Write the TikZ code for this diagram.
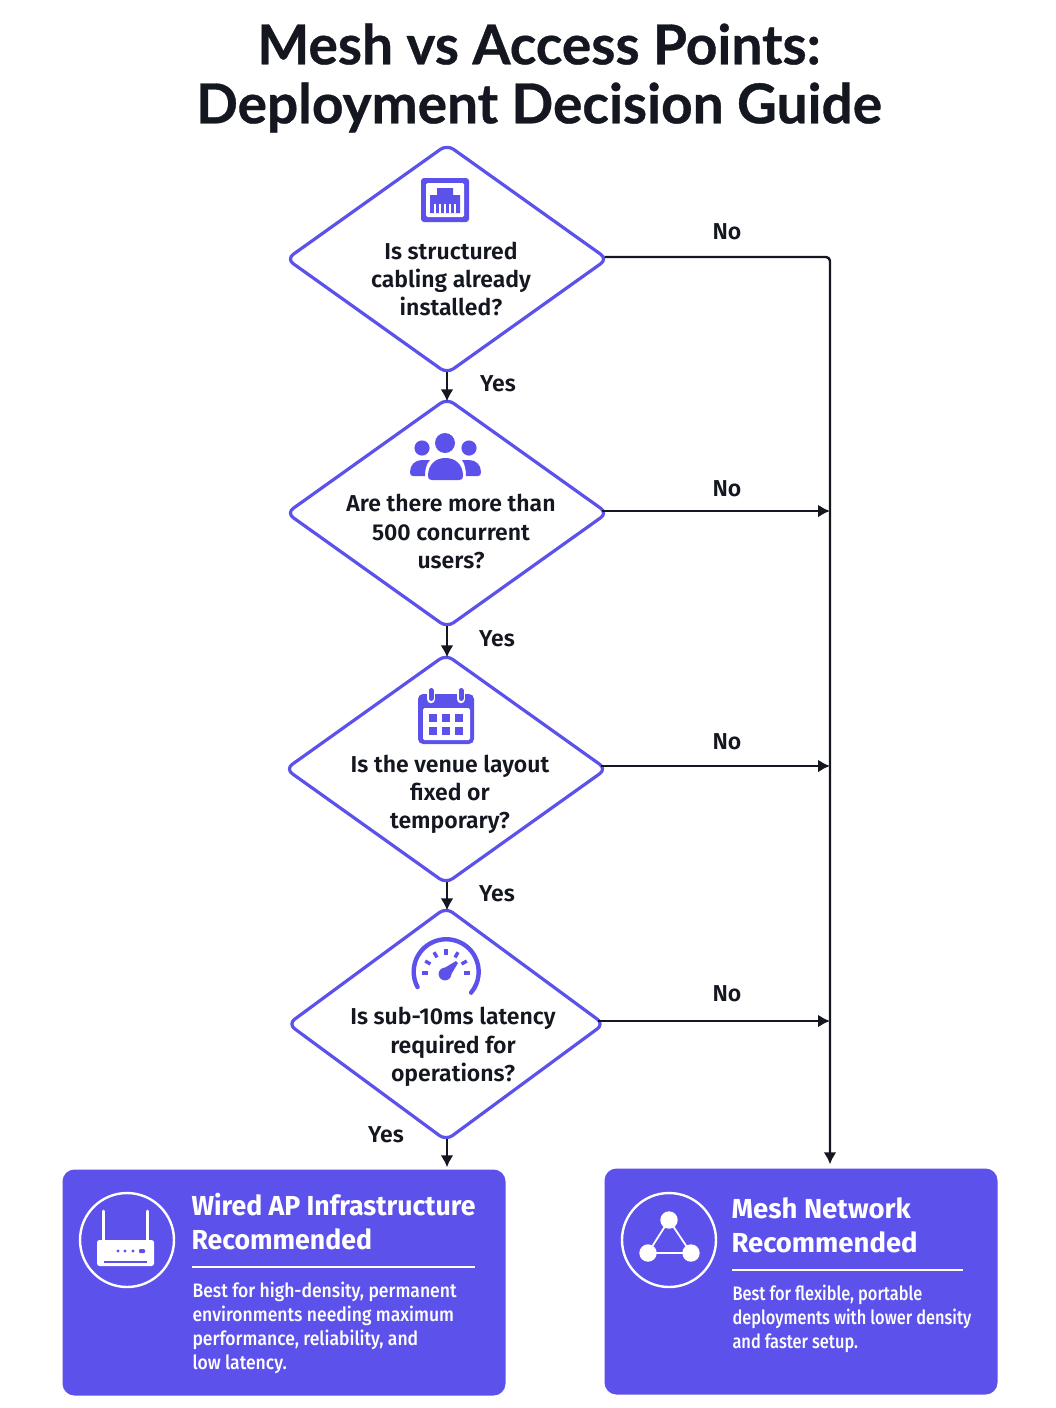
\documentclass[tikz,border=0pt]{standalone}
\usepackage{fontspec}
\setmainfont{Fira Sans}
\newfontfamily\titlefont[FakeBold=0.6]{Lato}
\newfontfamily\askfont{Fira Sans SemiBold}
\newfontfamily\headfont[FakeStretch=0.97]{Fira Sans}
\newfontfamily\meshheadfont{Fira Sans}
\newfontfamily\bodyfont[FakeStretch=0.9]{Fira Sans Medium}
\newfontfamily\meshbodyfont[FakeStretch=0.84]{Fira Sans Medium}
\usetikzlibrary{shapes.geometric,calc,arrows.meta}
\definecolor{meshpurple}{HTML}{5D51EC}
\definecolor{inkblack}{HTML}{14171F}
\tikzset{
  question/.style={diamond,draw=meshpurple,line width=3.2pt,fill=white,rounded corners=8pt,inner sep=0pt},
  asktext/.style={align=center,text=inkblack,font=\fontsize{23}{28.3}\selectfont\askfont},
  branch/.style={text=inkblack,font=\fontsize{23}{28}\selectfont\askfont},
  verdict/.style={rounded corners=12pt,fill=meshpurple,inner sep=0pt},
  verdicthead/.style={align=left,anchor=west,text=white,font=\fontsize{27.5}{33.5}\selectfont\headfont\bfseries},
  verdictbody/.style={align=left,anchor=west,text=white,font=\fontsize{19.5}{24.2}\selectfont\bodyfont},
  flow/.style={->,draw=inkblack,line width=2.4pt},
  fromtip/.style={shorten <=-4pt},
  fromside/.style={shorten <=-8pt},
  badge/.style={circle,draw=white,line width=2.4pt,inner sep=0pt,minimum size=94pt},
}
\begin{document}
\begin{tikzpicture}[>={Latex[length=12pt,width=13pt]},x=1pt,y=-1pt,line join=round]
  \useasboundingbox (0,0) rectangle (1056,1408);
  \fill[white] (0,0) rectangle (1056,1408);
  % Node: title
  \node (title) at (539,78) [align=center,text=inkblack,font=\fontsize{55}{59}\selectfont\titlefont\bfseries] {Mesh vs Access Points:\\Deployment Decision Guide};
  % Node: cabling
  \node (cabling) at (447,259) [question,minimum width=322pt,minimum height=230pt] {};
  \node (cablingtext) at (451,279) [asktext] {Is structured\\cabling already\\installed?};
  % Node: users
  \node (users) at (447,513) [question,minimum width=322pt,minimum height=230pt] {};
  \node (userstext) at (451,531.5) [asktext] {Are there more than\\500 concurrent\\users?};
  % Node: venue
  \node (venue) at (446,769) [question,minimum width=322pt,minimum height=230pt] {};
  \node (venuetext) at (450,794.5) [asktext] {Is the venue layout\\fixed or\\temporary?};
  % Node: latency
  \node (latency) at (446,1024) [question,minimum width=317pt,minimum height=234pt] {};
  \node (latencytext) at (453,1047) [asktext] {Is sub-10ms latency\\required for\\operations?};
  % Node: wired
  \node (wired) at (284,1282.5) [verdict,minimum width=443pt,minimum height=226pt] {};
  \node (wiredhead) at (188,1221.5) [verdicthead] {Wired AP Infrastructure\\Recommended};
  \node (wiredbody) at (189,1328) [verdictbody] {Best for high-density, permanent\\environments needing maximum\\performance, reliability, and\\low latency.};
  \node (wiredbadge) at (127,1240) [badge] {};
  \draw[white,line width=1.8pt] (192,1267) -- (475,1267);
  % Node: mesh
  \node (mesh) at (801,1281.5) [verdict,minimum width=393pt,minimum height=226pt] {};
  \node (meshhead) at (728,1225.5) [verdicthead,font=\fontsize{27.5}{33.5}\selectfont\meshheadfont\bfseries] {Mesh Network\\Recommended};
  \node (meshbody) at (729,1319) [verdictbody,font=\fontsize{19.5}{24.2}\selectfont\meshbodyfont] {Best for flexible, portable\\deployments with lower density\\and faster setup.};
  \node (meshbadge) at (669,1240) [badge] {};
  \draw[white,line width=1.8pt] (732,1270) -- (963,1270);
  % Icon: cable socket
  \fill[meshpurple,rounded corners=3pt] (421,178) rectangle (469,222);
  \fill[white,rounded corners=1.5pt] (426,183) rectangle (464,217);
  \fill[meshpurple] (437,188) -- (453,188) -- (453,195) -- (460,195) -- (460,213) -- (430,213) -- (430,195) -- (437,195) -- cycle;
  \foreach \slit in {434.2,439.4,444.4,449.4,454.4}
    \fill[white] (\slit,204) rectangle ++(2,9);
  % Icon: people
  \fill[meshpurple] (445,443) circle (10);
  \fill[meshpurple] (422,448) circle (7.6);
  \fill[meshpurple] (469,448) circle (7.6);
  \fill[meshpurple] (428,476) .. controls (428,465) and (435,458) .. (445.5,458) .. controls (456,458) and (463,465) .. (463,476) .. controls (463,479) and (462,480) .. (459,480) -- (432,480) .. controls (429,480) and (428,479) .. (428,476) -- cycle;
  \fill[meshpurple] (410,472) .. controls (410,465) and (415,460) .. (422,460) -- (430,460) .. controls (426,464) and (425,470) .. (425,476) -- (413,476) .. controls (411,476) and (410,475) .. (410,472) -- cycle;
  \fill[meshpurple] (481,472) .. controls (481,465) and (476,460) .. (469,460) -- (462,460) .. controls (465,464) and (466,470) .. (466,476) -- (478,476) .. controls (480,476) and (481,475) .. (481,472) -- cycle;
  % Icon: calendar
  \fill[meshpurple,rounded corners=5pt] (418,694) rectangle (474,744);
  \fill[white,rounded corners=1.5pt] (423,708) rectangle (470,740);
  \foreach \ring in {431,461}{
    \draw[white,line width=8.5pt,line cap=round] (\ring,691) -- (\ring,699);
    \draw[meshpurple,line width=5pt,line cap=round] (\ring,690.5) -- (\ring,698.5);
  }
  \foreach \col in {433,446,459}
    \foreach \row in {718,731}
      \fill[meshpurple] (\col-3.7,\row-3.7) rectangle ++(7.4,7.4);
  % Icon: gauge
  \draw[meshpurple,line width=4.4pt,line cap=round] (417.5,987) arc[start angle=208,end angle=-40,x radius=32.5,y radius=-32.5];
  \foreach \tick in {180,150,120,90,60,30,0}
    \draw[meshpurple,line width=3.4pt] ($(446,973)+(\tick:18 and -18)$) -- ($(446,973)+(\tick:24 and -24)$);
  \fill[meshpurple] (445,974) circle (6.4);
  \fill[meshpurple] (441,970) -- (456,961) -- (458,963) -- (449,978) -- cycle;
  % Icon: router
  \draw[white,line width=3pt,line cap=round] (103,1211) -- (103,1242);
  \draw[white,line width=3pt,line cap=round] (147,1211) -- (147,1242);
  \fill[white,rounded corners=2.5pt] (97,1240) rectangle (154,1266);
  \foreach \led in {118,125,133}
    \fill[meshpurple] (\led,1251) circle (1.7);
  \fill[meshpurple,rounded corners=1pt] (139,1249) rectangle (145,1253);
  \draw[meshpurple,line width=1.4pt] (104,1262) -- (147,1262);
  % Icon: triangle of nodes
  \draw[white,line width=1.8pt] (669,1220) -- (648,1253) -- (691,1253) -- cycle;
  \foreach \spot in {(669,1220),(648,1253),(691,1253)}
    \fill[white] \spot circle (8.7);
  % Edge: cabling -> users
  \draw [flow,fromtip,shorten >=-5pt] (cabling.south) -- (users.north);
  % Edge: users -> venue
  \draw [flow,fromtip,shorten >=-5pt] (users.south) -- (users.south |- venue.north);
  % Edge: venue -> latency
  \draw [flow,fromtip,shorten >=-5pt] (users.south |- venue.south) -- (users.south |- latency.north);
  % Edge: latency -> wired
  \draw [flow,fromtip,shorten >=2pt] (users.south |- latency.south) -- (users.south |- wired.north);
  % Edge: cabling -> mesh
  \coordinate (spine) at (830,257);
  \draw [flow,shorten <=-5pt,rounded corners=4pt,shorten >=4pt] (cabling.east |- spine) -- (spine) -- (spine |- mesh.north);
  % Edge: users -> spine
  \coordinate (usersout) at ([yshift=2pt]users.east);
  \draw [flow,fromside] (usersout) -- (spine |- usersout);
  % Edge: venue -> spine
  \coordinate (venueout) at ([yshift=3pt]venue.east);
  \draw [flow,fromside] (venueout) -- (spine |- venueout);
  % Edge: latency -> spine
  \coordinate (latencyout) at ([yshift=3pt]latency.east);
  \draw [flow,fromside] (latencyout) -- (spine |- latencyout);
  % Node: branch labels
  \node (yesa) at (498,384) [branch] {Yes};
  \node (yesb) at (497,639) [branch] {Yes};
  \node (yesc) at (497,894) [branch] {Yes};
  \node (yesd) at (386,1135) [branch] {Yes};
  \node (noa) at (727,232) [branch] {No};
  \node (nob) at (727,489) [branch] {No};
  \node (noc) at (727,742) [branch] {No};
  \node (nod) at (727,994) [branch] {No};
\end{tikzpicture}
\end{document}
